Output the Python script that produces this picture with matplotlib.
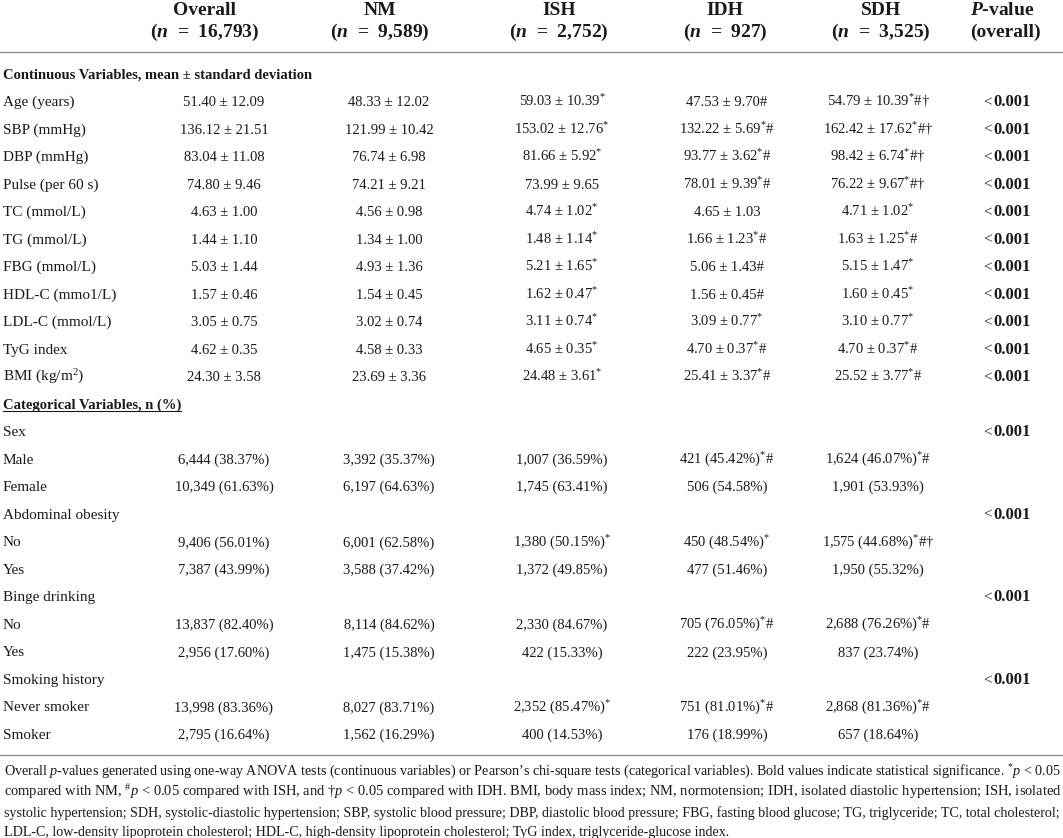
import matplotlib
matplotlib.use("Agg")
import matplotlib.pyplot as plt

plt.rcParams['font.family'] = ['Liberation Serif', 'DejaVu Serif']
plt.rcParams['mathtext.fontset'] = 'custom'
plt.rcParams['mathtext.rm'] = 'Liberation Serif'
plt.rcParams['mathtext.it'] = 'Liberation Serif:italic'
plt.rcParams['mathtext.bf'] = 'Liberation Serif:bold'
plt.rcParams['mathtext.sf'] = 'Liberation Serif:bold:italic'
plt.rcParams['mathtext.default'] = 'regular'

# ---------------- data ----------------
groups = ["Overall", "NM", "ISH", "IDH", "SDH"]
group_n = ["16,793", "9,589", "2,752", "927", "3,525"]

cont_labels = ["Age (years)", "SBP (mmHg)", "DBP (mmHg)", "Pulse (per 60 s)", "TC (mmol/L)",
               "TG (mmol/L)", "FBG (mmol/L)", "HDL-C (mmo1/L)", "LDL-C (mmol/L)", "TyG index",
               "BMI (kg/m$^{2}$)"]
overall_mean = [51.40, 136.12, 83.04, 74.80, 4.63, 1.44, 5.03, 1.57, 3.05, 4.62, 24.30]
overall_sd = [12.09, 21.51, 11.08, 9.46, 1.00, 1.10, 1.44, 0.46, 0.75, 0.35, 3.58]
nm_mean = [48.33, 121.99, 76.74, 74.21, 4.56, 1.34, 4.93, 1.54, 3.02, 4.58, 23.69]
nm_sd = [12.02, 10.42, 6.98, 9.21, 0.98, 1.00, 1.36, 0.45, 0.74, 0.33, 3.36]
ish_mean = [59.03, 153.02, 81.66, 73.99, 4.74, 1.48, 5.21, 1.62, 3.11, 4.65, 24.48]
ish_sd = [10.39, 12.76, 5.92, 9.65, 1.02, 1.14, 1.65, 0.47, 0.74, 0.35, 3.61]
ish_flag = ["*", "*", "*", "", "*", "*", "*", "*", "*", "*", "*"]
idh_mean = [47.53, 132.22, 93.77, 78.01, 4.65, 1.66, 5.06, 1.56, 3.09, 4.70, 25.41]
idh_sd = [9.70, 5.69, 3.62, 9.39, 1.03, 1.23, 1.43, 0.45, 0.77, 0.37, 3.37]
idh_flag = ["#", "*#", "*#", "*#", "", "*#", "#", "#", "*", "*#", "*#"]
sdh_mean = [54.79, 162.42, 98.42, 76.22, 4.71, 1.63, 5.15, 1.60, 3.10, 4.70, 25.52]
sdh_sd = [10.39, 17.62, 6.74, 9.67, 1.02, 1.25, 1.47, 0.45, 0.77, 0.37, 3.77]
sdh_flag = ["*#†", "*#†", "*#†", "*#†", "*", "*#", "*", "*", "*", "*#", "*#"]
cont_p = ["0.001"] * 11

cat_vars = ["Sex", "Abdominal obesity", "Binge drinking", "Smoking history"]
cat_p = ["0.001", "0.001", "0.001", "0.001"]
cat_levels = [["Male", "Female"], ["No", "Yes"], ["No", "Yes"], ["Never smoker", "Smoker"]]
overall_cnt = [6444, 10349, 9406, 7387, 13837, 2956, 13998, 2795]
overall_pct = [38.37, 61.63, 56.01, 43.99, 82.40, 17.60, 83.36, 16.64]
nm_cnt = [3392, 6197, 6001, 3588, 8114, 1475, 8027, 1562]
nm_pct = [35.37, 64.63, 62.58, 37.42, 84.62, 15.38, 83.71, 16.29]
ish_cnt = [1007, 1745, 1380, 1372, 2330, 422, 2352, 400]
ish_pct = [36.59, 63.41, 50.15, 49.85, 84.67, 15.33, 85.47, 14.53]
ish_cflag = ["", "", "*", "", "", "", "*", ""]
idh_cnt = [421, 506, 450, 477, 705, 222, 751, 176]
idh_pct = [45.42, 54.58, 48.54, 51.46, 76.05, 23.95, 81.01, 18.99]
idh_cflag = ["*#", "", "*", "", "*#", "", "*#", ""]
sdh_cnt = [1624, 1901, 1575, 1950, 2688, 837, 2868, 657]
sdh_pct = [46.07, 53.93, 44.68, 55.32, 76.26, 23.74, 81.36, 18.64]
sdh_cflag = ["*#", "", "*#†", "", "*#", "", "*#", ""]

footnote = [
    "Overall $\\mathit{p}$-values generated using one-way ANOVA tests (continuous variables) or Pearson\u2019s chi-square tests (categorical variables). Bold values indicate statistical significance. $^{*}\\mathit{p}$ < 0.05",
    "compared with NM, $^{\\#}\\mathit{p}$ < 0.05 compared with ISH, and \u2020$\\mathit{p}$ < 0.05 compared with IDH. BMI, body mass index; NM, normotension; IDH, isolated diastolic hypertension; ISH, isolated",
    "systolic hypertension; SDH, systolic-diastolic hypertension; SBP, systolic blood pressure; DBP, diastolic blood pressure; FBG, fasting blood glucose; TG, triglyceride; TC, total cholesterol;",
    "LDL-C, low-density lipoprotein cholesterol; HDL-C, high-density lipoprotein cholesterol; TyG index, triglyceride-glucose index.",
]

# ---------------- layout ----------------
W, H = 1063, 838
fig = plt.figure(figsize=(W / 100, H / 100), dpi=100)
ax = fig.add_axes([0, 0, 1, 1])
ax.set_xlim(0, W)
ax.set_ylim(H, 0)
ax.axis('off')

TXT = '#1a1a1a'
RULE = '#8c8c8c'
header_x = [205, 380, 559, 725, 881]
val_x = [224, 389, 562, 727, 878]
p_center = 1007
label_x = 3
label_fs = 11
val_fs = 10.5
sect_fs = 10.5
head_fs = 14
EN = "\u2002"


def flagfmt(f):
    return "".join("$^{*}$" if c == "*" else c for c in f)


# header
for gx, g, n in zip(header_x, groups, group_n):
    ax.text(gx, 15, g, ha='center', va='baseline', fontsize=head_fs, fontweight='bold', color=TXT)
    ax.text(gx, 37, "($\\mathsf{n}$" + EN + "=" + EN + "%s)" % n, ha='center', va='baseline',
            fontsize=head_fs, fontweight='bold', color=TXT)
ax.text(1002, 15, "$\\mathsf{P}$-value", ha='center', va='baseline', fontsize=head_fs,
        fontweight='bold', color=TXT)
ax.text(1005, 37, "(overall)", ha='center', va='baseline', fontsize=head_fs, fontweight='bold', color=TXT)

ax.axhline(52, color=RULE, lw=1.0)
ax.axhline(755, color=RULE, lw=1.0)

renderer = fig.canvas.get_renderer()

y0, dy = 74.5, 27.52
row = 0


def ybase(r):
    return y0 + dy * r + 4


def pval(r, p):
    lt = ax.text(0, ybase(r), "<", ha='left', va='baseline', fontsize=11, color=TXT)
    num = ax.text(0, ybase(r), p, ha='left', va='baseline', fontsize=12, fontweight='bold', color=TXT)
    w1 = lt.get_window_extent(renderer).width
    w2 = num.get_window_extent(renderer).width
    gap = 1
    x = p_center - (w1 + gap + w2) / 2
    lt.set_x(x)
    num.set_x(x + w1 + gap)


ax.text(label_x, ybase(row), "Continuous Variables, mean \u00b1 standard deviation", ha='left',
        va='baseline', fontsize=sect_fs, fontweight='bold', color=TXT)
row += 1
cont_cols = [(overall_mean, overall_sd, [""] * 11), (nm_mean, nm_sd, [""] * 11),
             (ish_mean, ish_sd, ish_flag), (idh_mean, idh_sd, idh_flag), (sdh_mean, sdh_sd, sdh_flag)]
for i, lab in enumerate(cont_labels):
    ax.text(label_x, ybase(row), lab, ha='left', va='baseline', fontsize=label_fs, color=TXT)
    for cx, (m, s, f) in zip(val_x, cont_cols):
        ax.text(cx, ybase(row), "%.2f \u00b1 %.2f%s" % (m[i], s[i], flagfmt(f[i])), ha='center',
                va='baseline', fontsize=val_fs, color=TXT)
    pval(row, cont_p[i])
    row += 1

cat_title = ax.text(label_x, ybase(row), "Categorical Variables, n (%)", ha='left', va='baseline',
                    fontsize=sect_fs, fontweight='bold', color=TXT)
cat_row = row
row += 1
cat_cols = [(overall_cnt, overall_pct, [""] * 8), (nm_cnt, nm_pct, [""] * 8),
            (ish_cnt, ish_pct, ish_cflag), (idh_cnt, idh_pct, idh_cflag), (sdh_cnt, sdh_pct, sdh_cflag)]
k = 0
for vi, var in enumerate(cat_vars):
    ax.text(label_x, ybase(row), var, ha='left', va='baseline', fontsize=label_fs, color=TXT)
    pval(row, cat_p[vi])
    row += 1
    for lev in cat_levels[vi]:
        ax.text(label_x, ybase(row), lev, ha='left', va='baseline', fontsize=label_fs, color=TXT)
        for cx, (c, p, f) in zip(val_x, cat_cols):
            ax.text(cx, ybase(row), "{:,} ({:.2f}%){}".format(c[k], p[k], flagfmt(f[k])), ha='center',
                    va='baseline', fontsize=val_fs, color=TXT)
        row += 1
        k += 1

bb = cat_title.get_window_extent(renderer)
ax.plot([bb.x0, bb.x1], [ybase(cat_row) + 2.5] * 2, color=TXT, lw=0.8)

# footnote: each line sized to its width in the reference (justified block)
foot_y = [775.5, 796, 816.5, 836]
foot_w = [1054, 1054, 1054, 726]
fx0 = 4
for line, fy, tw in zip(footnote, foot_y, foot_w):
    t = ax.text(fx0, fy, line, ha='left', va='baseline', fontsize=10, color=TXT)
    w = t.get_window_extent(renderer).width
    t.set_fontsize(10 * tw / w)

fig.savefig("out.png", dpi=100)
